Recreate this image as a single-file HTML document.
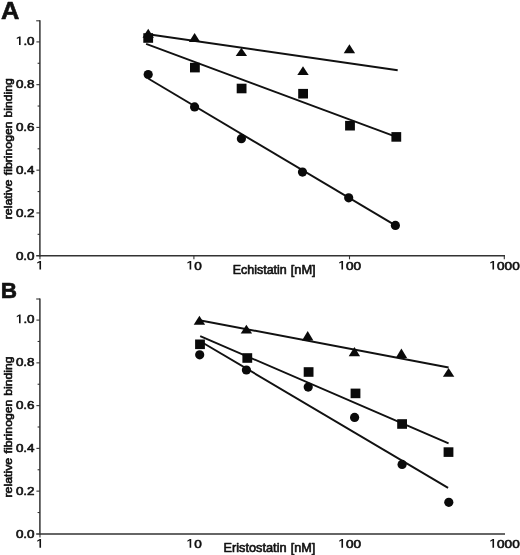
<!DOCTYPE html>
<html><head><meta charset="utf-8"><style>
html,body{margin:0;padding:0;background:#fff;}
body{width:520px;height:555px;overflow:hidden;}
svg{display:block;will-change:transform;transform:translateZ(0);}
text{font-family:"Liberation Sans",sans-serif;fill:#111;stroke:#111;stroke-width:0.6px;stroke-linejoin:round;}
</style></head><body>
<svg width="520" height="555" viewBox="0 0 520 555">
<rect width="520" height="555" fill="#fff"/>
<g stroke="#333" stroke-width="1.5" fill="none">
<path d="M39.9 20.3 V256.4"/>
<path d="M36.2 255.7 H505"/>
</g>
<g stroke="#333" stroke-width="1.1" fill="none">
<path d="M36.2 20.8 H40"/>
<path d="M37.6 234.32 H40"/>
<path d="M36.4 212.94 H40"/>
<path d="M37.6 191.56 H40"/>
<path d="M36.4 170.18 H40"/>
<path d="M37.6 148.80 H40"/>
<path d="M36.4 127.42 H40"/>
<path d="M37.6 106.04 H40"/>
<path d="M36.4 84.66 H40"/>
<path d="M37.6 63.28 H40"/>
<path d="M36.4 41.90 H40"/>
<path d="M39.95 255.7 V259.3"/>
<path d="M193.90 255.7 V259.3"/>
<path d="M349.50 255.7 V259.3"/>
<path d="M504.30 255.7 V259.3"/>
</g>
<text x="15.9" y="259.60" font-size="11.6" stroke-width="0.45" textLength="18.7" lengthAdjust="spacingAndGlyphs">0.0</text>
<text x="15.9" y="216.68" font-size="11.6" stroke-width="0.45" textLength="18.7" lengthAdjust="spacingAndGlyphs">0.2</text>
<text x="15.9" y="173.76" font-size="11.6" stroke-width="0.45" textLength="18.7" lengthAdjust="spacingAndGlyphs">0.4</text>
<text x="15.9" y="130.84" font-size="11.6" stroke-width="0.45" textLength="18.7" lengthAdjust="spacingAndGlyphs">0.6</text>
<text x="15.9" y="87.92" font-size="11.6" stroke-width="0.45" textLength="18.7" lengthAdjust="spacingAndGlyphs">0.8</text>
<path fill="#111" d="M19.00 45.00 V37.90 L16.80 39.10 V37.80 L19.30 36.40 H20.60 V45.00 Z"/>
<text x="23.4" y="45.00" font-size="11.6" stroke-width="0.45" textLength="11.2" lengthAdjust="spacingAndGlyphs">.0</text>
<path fill="#111" d="M39.45 269.50 V262.40 L37.25 263.60 V262.30 L39.75 260.90 H41.05 V269.50 Z"/>
<path fill="#111" d="M189.62 269.50 V262.40 L187.43 263.60 V262.30 L189.93 260.90 H191.23 V269.50 Z"/>
<text x="194.20" y="269.50" font-size="11.6" stroke-width="0.45" textLength="7.55" lengthAdjust="spacingAndGlyphs">0</text>
<path fill="#111" d="M341.45 269.50 V262.40 L339.25 263.60 V262.30 L341.75 260.90 H343.05 V269.50 Z"/>
<text x="346.03" y="269.50" font-size="11.6" stroke-width="0.45" textLength="15.10" lengthAdjust="spacingAndGlyphs">00</text>
<path fill="#111" d="M492.47 269.50 V262.40 L490.27 263.60 V262.30 L492.77 260.90 H494.07 V269.50 Z"/>
<text x="497.05" y="269.50" font-size="11.6" stroke-width="0.45" textLength="22.65" lengthAdjust="spacingAndGlyphs">000</text>
<text x="232.7" y="274.1" font-size="12" stroke-width="0.7" textLength="54.1" lengthAdjust="spacingAndGlyphs">Echistatin</text>
<text x="290.7" y="274.1" font-size="12" stroke-width="0.7" textLength="25" lengthAdjust="spacingAndGlyphs">[nM]</text>
<text transform="translate(11.6 219.30) rotate(-90)" font-size="11" textLength="39.7" lengthAdjust="spacingAndGlyphs">relative</text>
<text transform="translate(11.6 175.20) rotate(-90)" font-size="11" textLength="53.8" lengthAdjust="spacingAndGlyphs">fibrinogen</text>
<text transform="translate(11.6 117.50) rotate(-90)" font-size="11" textLength="39.2" lengthAdjust="spacingAndGlyphs">binding</text>
<g stroke="#333" stroke-width="1.5" fill="none">
<path d="M39.9 298.5 V534.6"/>
<path d="M36.2 533.9 H505"/>
</g>
<g stroke="#333" stroke-width="1.1" fill="none">
<path d="M36.2 299.0 H40"/>
<path d="M37.6 512.52 H40"/>
<path d="M36.4 491.14 H40"/>
<path d="M37.6 469.76 H40"/>
<path d="M36.4 448.38 H40"/>
<path d="M37.6 427.00 H40"/>
<path d="M36.4 405.62 H40"/>
<path d="M37.6 384.24 H40"/>
<path d="M36.4 362.86 H40"/>
<path d="M37.6 341.48 H40"/>
<path d="M36.4 320.10 H40"/>
<path d="M39.95 533.9 V537.5"/>
</g>
<text x="15.9" y="537.80" font-size="11.6" stroke-width="0.45" textLength="18.7" lengthAdjust="spacingAndGlyphs">0.0</text>
<text x="15.9" y="494.88" font-size="11.6" stroke-width="0.45" textLength="18.7" lengthAdjust="spacingAndGlyphs">0.2</text>
<text x="15.9" y="451.96" font-size="11.6" stroke-width="0.45" textLength="18.7" lengthAdjust="spacingAndGlyphs">0.4</text>
<text x="15.9" y="409.04" font-size="11.6" stroke-width="0.45" textLength="18.7" lengthAdjust="spacingAndGlyphs">0.6</text>
<text x="15.9" y="366.12" font-size="11.6" stroke-width="0.45" textLength="18.7" lengthAdjust="spacingAndGlyphs">0.8</text>
<path fill="#111" d="M19.00 323.20 V316.10 L16.80 317.30 V316.00 L19.30 314.60 H20.60 V323.20 Z"/>
<text x="23.4" y="323.20" font-size="11.6" stroke-width="0.45" textLength="11.2" lengthAdjust="spacingAndGlyphs">.0</text>
<path fill="#111" d="M39.45 547.70 V540.60 L37.25 541.80 V540.50 L39.75 539.10 H41.05 V547.70 Z"/>
<path fill="#111" d="M189.62 547.70 V540.60 L187.43 541.80 V540.50 L189.93 539.10 H191.23 V547.70 Z"/>
<text x="194.20" y="547.70" font-size="11.6" stroke-width="0.45" textLength="7.55" lengthAdjust="spacingAndGlyphs">0</text>
<path fill="#111" d="M341.45 547.70 V540.60 L339.25 541.80 V540.50 L341.75 539.10 H343.05 V547.70 Z"/>
<text x="346.03" y="547.70" font-size="11.6" stroke-width="0.45" textLength="15.10" lengthAdjust="spacingAndGlyphs">00</text>
<path fill="#111" d="M492.47 547.70 V540.60 L490.27 541.80 V540.50 L492.77 539.10 H494.07 V547.70 Z"/>
<text x="497.05" y="547.70" font-size="11.6" stroke-width="0.45" textLength="22.65" lengthAdjust="spacingAndGlyphs">000</text>
<text x="223.4" y="552.2" font-size="12" stroke-width="0.7" textLength="63.2" lengthAdjust="spacingAndGlyphs">Eristostatin</text>
<text x="290.7" y="552.2" font-size="12" stroke-width="0.7" textLength="24.6" lengthAdjust="spacingAndGlyphs">[nM]</text>
<text transform="translate(11.6 497.50) rotate(-90)" font-size="11" textLength="39.7" lengthAdjust="spacingAndGlyphs">relative</text>
<text transform="translate(11.6 453.40) rotate(-90)" font-size="11" textLength="53.8" lengthAdjust="spacingAndGlyphs">fibrinogen</text>
<text transform="translate(11.6 395.70) rotate(-90)" font-size="11" textLength="39.2" lengthAdjust="spacingAndGlyphs">binding</text>
<text x="1" y="19.3" font-size="24" font-weight="bold" textLength="18.4" lengthAdjust="spacingAndGlyphs">A</text>
<text x="0.8" y="298.2" font-size="22.6" font-weight="bold" textLength="16.3" lengthAdjust="spacingAndGlyphs">B</text>
<g fill="#0a0a0a">
<path d="M148.2 34.3 L397.7 70.2" stroke="#111" stroke-width="1.9" fill="none"/>
<path d="M146.1 43.8 L396.3 136.9" stroke="#111" stroke-width="1.9" fill="none"/>
<path d="M148.2 78.5 L395.4 225.4" stroke="#111" stroke-width="1.9" fill="none"/>
<path d="M148.2 28.8 L153.9 37.7 H142.5 Z"/>
<path d="M194.6 33.1 L200.3 42.0 H188.9 Z"/>
<path d="M241.4 47.8 L247.1 56.1 H235.7 Z"/>
<path d="M303.0 66.2 L308.7 75.0 H297.3 Z"/>
<path d="M349.4 44.2 L355.1 53.3 H343.7 Z"/>
<rect x="143.3" y="33.2" width="9.8" height="9.6"/>
<rect x="190.0" y="62.8" width="9.8" height="9.6"/>
<rect x="236.7" y="83.7" width="9.8" height="9.6"/>
<rect x="298.2" y="88.9" width="9.8" height="9.6"/>
<rect x="345.1" y="120.9" width="9.8" height="9.6"/>
<rect x="391.4" y="132.1" width="9.8" height="9.6"/>
<circle cx="148.2" cy="74.5" r="4.6"/>
<circle cx="194.6" cy="106.9" r="4.6"/>
<circle cx="241.4" cy="138.7" r="4.6"/>
<circle cx="302.5" cy="172.1" r="4.6"/>
<circle cx="348.7" cy="197.8" r="4.6"/>
<circle cx="395.4" cy="225.4" r="4.6"/>
<path d="M199.4 320.2 L448.6 367.5" stroke="#111" stroke-width="1.9" fill="none"/>
<path d="M200.2 336.1 L448.6 443.4" stroke="#111" stroke-width="1.9" fill="none"/>
<path d="M200.2 341.2 L448.1 487.9" stroke="#111" stroke-width="1.9" fill="none"/>
<path d="M199.4 315.7 L205.1 324.7 H193.7 Z"/>
<path d="M246.4 324.7 L252.1 333.6 H240.7 Z"/>
<path d="M307.7 331.1 L313.4 340.4 H302.0 Z"/>
<path d="M354.4 347.0 L360.1 356.3 H348.7 Z"/>
<path d="M401.4 348.5 L407.1 358.1 H395.7 Z"/>
<path d="M448.6 368.0 L454.3 376.8 H442.9 Z"/>
<rect x="195.1" y="339.5" width="9.8" height="9.6"/>
<rect x="242.4" y="353.2" width="9.8" height="9.6"/>
<rect x="303.7" y="367.2" width="9.8" height="9.6"/>
<rect x="350.6" y="388.6" width="9.8" height="9.6"/>
<rect x="397.2" y="419.2" width="9.8" height="9.6"/>
<rect x="443.6" y="447.3" width="9.8" height="9.6"/>
<circle cx="199.7" cy="354.8" r="4.6"/>
<circle cx="246.4" cy="370.0" r="4.6"/>
<circle cx="308.2" cy="387.1" r="4.6"/>
<circle cx="354.6" cy="417.4" r="4.6"/>
<circle cx="402.1" cy="464.4" r="4.6"/>
<circle cx="448.8" cy="502.3" r="4.6"/>
</g>
</svg></body></html>
